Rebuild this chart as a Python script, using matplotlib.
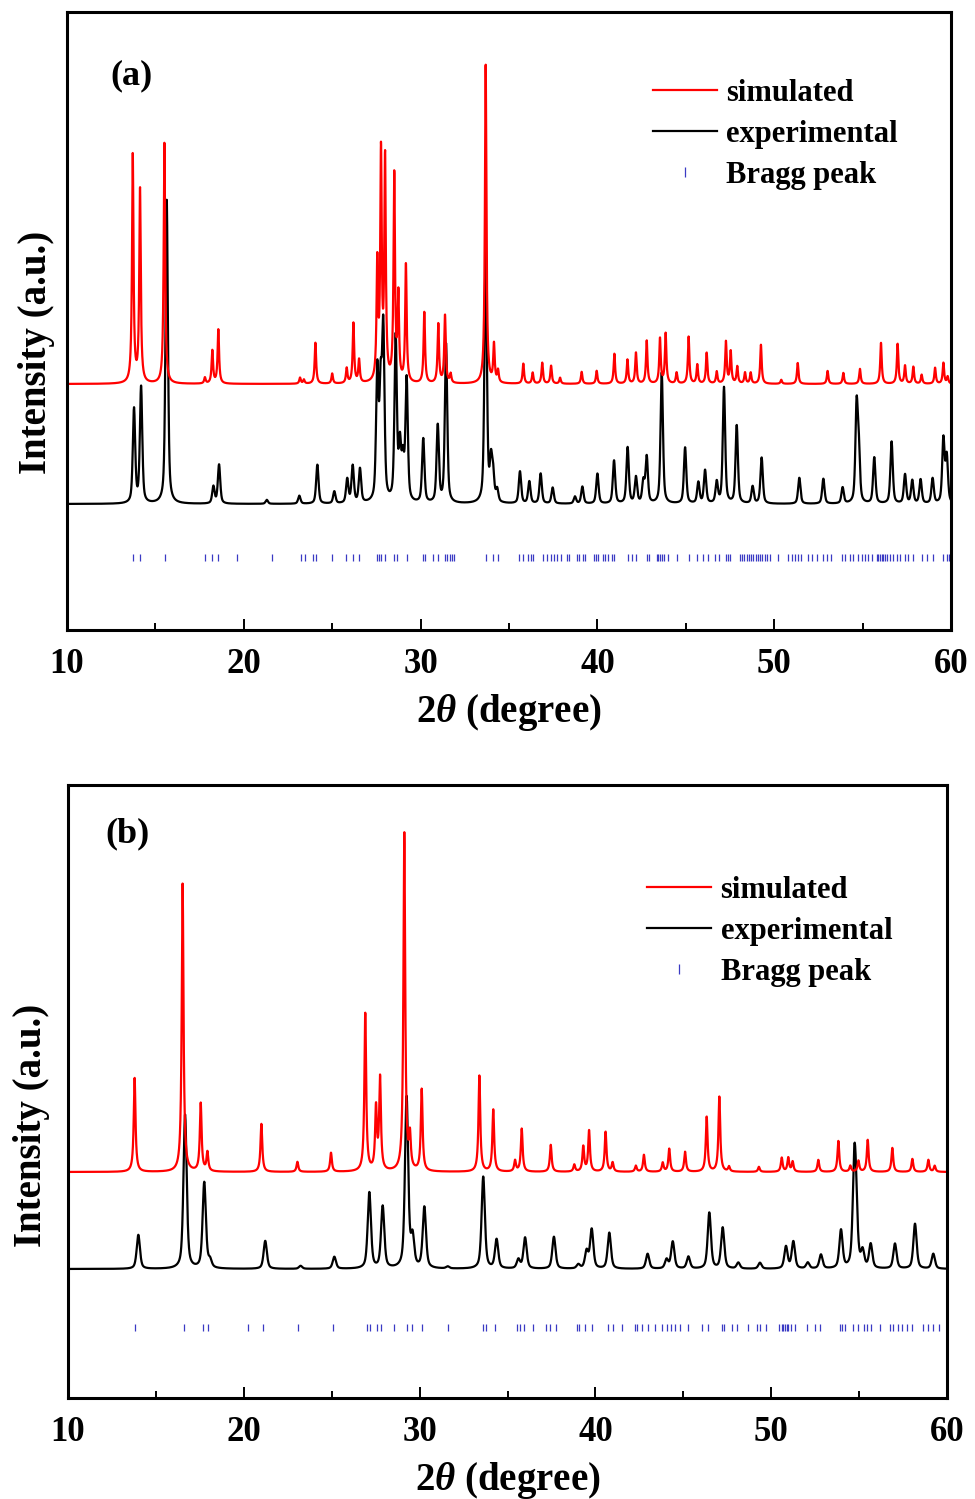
import numpy as np
import matplotlib
matplotlib.use("Agg")
from matplotlib import pyplot as plt
from matplotlib.lines import Line2D

# ---- panel (a): peak positions (2theta) and peak tops (pixel height above axis bottom)
sim_a_pos = [13.72, 14.13, 15.51, 17.8, 18.22, 18.56, 23.18, 23.4, 24.05, 25.0, 25.82, 26.2,
             26.52, 27.55, 27.76, 27.99, 28.51, 28.74, 29.17, 30.21, 31.0, 31.38, 31.7, 33.68,
             34.15, 34.38, 35.81, 36.34, 36.88, 37.38, 37.89, 39.11, 39.96, 40.96, 41.7, 42.18,
             42.79, 43.54, 43.86, 44.48, 45.16, 45.65, 46.18, 46.75, 47.27, 47.54, 47.91, 48.35,
             48.67, 49.25, 50.4, 51.33, 53.02, 53.91, 54.85, 56.04, 56.98, 57.4, 57.87, 58.34,
             59.1, 59.57, 59.81]
sim_a_top = [475, 440, 487, 252, 279, 300, 252, 250, 287, 256, 261, 306,
             269, 362, 471, 466, 452, 330, 364, 317, 305, 314, 255, 566,
             284, 258, 266, 257, 267, 264, 252, 258, 259, 276, 270, 277,
             289, 291, 296, 257, 293, 265, 277, 258, 288, 278, 263, 257,
             257, 285, 250, 267, 259, 257, 261, 287, 286, 264, 263, 255,
             262, 267, 253]
sim_a_base = 246

exp_a_pos = [13.79, 14.19, 15.64, 18.28, 18.6, 21.3, 23.14, 24.16, 25.12, 25.85, 26.16, 26.57,
             27.55, 27.74, 27.89, 28.59, 28.83, 29.0, 29.21, 30.15, 30.97, 31.44, 33.68, 33.98,
             34.1, 34.33, 35.62, 36.15, 36.79, 37.47, 38.73, 39.15, 40.0, 40.94, 41.71, 42.18,
             42.6, 42.79, 43.64, 44.96, 45.71, 46.09, 46.75, 47.16, 47.88, 48.78, 49.29, 51.42,
             52.78, 53.87, 54.66, 54.78, 55.66, 56.64, 57.4, 57.81, 58.28, 58.96, 59.57, 59.76]
exp_a_top = [220, 242, 430, 143, 165, 130, 134, 165, 138, 150, 163, 160,
             255, 230, 292, 290, 180, 165, 248, 190, 203, 285, 383, 164,
             152, 138, 158, 148, 156, 142, 133, 143, 156, 169, 182, 152,
             147, 172, 257, 182, 147, 159, 147, 242, 204, 143, 172, 152,
             151, 142, 220, 176, 172, 188, 155, 149, 150, 151, 190, 172]
exp_a_base = 126

bragg_a = [13.71, 14.13, 15.54, 17.81, 18.18, 18.56, 19.63, 21.61, 23.22, 23.46, 23.93, 24.08,
           25.01, 25.78, 26.16, 26.52, 27.52, 27.65, 27.76, 27.99, 28.51, 28.68, 29.21, 30.15,
           30.25, 30.72, 30.97, 31.38, 31.51, 31.66, 31.8, 31.91, 33.7, 34.11, 34.36, 35.57,
           35.77, 36.09, 36.23, 36.34, 36.94, 37.13, 37.36, 37.55, 37.73, 37.94, 38.3, 38.41,
           38.83, 38.98, 39.2, 39.3, 39.81, 39.92, 40.05, 40.3, 40.43, 40.62, 40.81, 40.96,
           41.75, 41.94, 42.18, 42.79, 42.92, 43.35, 43.45, 43.54, 43.64, 43.79, 44.01, 44.48,
           45.2, 45.62, 45.99, 46.27, 46.65, 46.88, 47.27, 47.4, 47.5, 48.07, 48.2, 48.31,
           48.44, 48.57, 48.69, 48.82, 48.95, 49.07, 49.2, 49.33, 49.48, 49.61, 49.76, 50.2,
           50.8, 50.99, 51.18, 51.36, 51.5, 51.93, 52.12, 52.4, 52.78, 52.97, 53.2, 53.82,
           54.0, 54.29, 54.47, 54.76, 54.95, 55.14, 55.32, 55.51, 55.8, 55.89, 55.98, 56.08,
           56.17, 56.27, 56.36, 56.55, 56.74, 56.93, 57.12, 57.4, 57.59, 57.87, 58.34, 58.63,
           59.0, 59.57, 59.76, 59.9]
bragg_a_level = 72

# ---- panel (b)
sim_b_pos = [13.79, 16.52, 17.55, 17.93, 21.0, 23.05, 24.96, 26.91, 27.52, 27.75, 29.13, 29.45,
             30.12, 33.4, 34.19, 35.43, 35.81, 37.46, 38.8, 39.31, 39.64, 40.58, 40.98, 42.3,
             42.76, 43.83, 44.2, 45.1, 46.33, 47.05, 47.6, 49.3, 50.6, 50.97, 51.22, 52.68,
             53.82, 54.5, 54.96, 55.49, 56.89, 58.03, 58.94, 59.3]
sim_b_top = [320, 515, 294, 245, 274, 236, 245, 384, 288, 318, 565, 258,
             308, 322, 288, 237, 269, 253, 233, 251, 267, 266, 235, 232,
             243, 235, 249, 246, 281, 301, 231, 231, 240, 240, 236, 238,
             257, 232, 237, 258, 250, 239, 238, 232]
sim_b_base = 226

exp_b_pos = [14.0, 16.66, 17.75, 18.08, 21.22, 23.23, 25.15, 27.14, 27.9, 29.26, 29.6, 30.27,
             31.6, 33.62, 34.38, 35.62, 36.0, 37.64, 39.03, 39.5, 39.79, 40.79, 42.97, 44.05,
             44.4, 45.29, 46.48, 47.24, 48.13, 49.36, 50.84, 51.26, 52.08, 52.83, 53.97, 54.73,
             54.83, 55.2, 55.66, 57.04, 58.18, 59.22]
exp_b_top = [163, 283, 215, 136, 157, 132, 141, 205, 191, 300, 158, 190,
             131, 221, 158, 138, 160, 161, 133, 146, 168, 165, 144, 138,
             156, 141, 185, 170, 135, 135, 151, 156, 135, 143, 167, 228,
             172, 145, 153, 154, 174, 144]
exp_b_base = 129

bragg_b = [13.79, 16.6, 17.66, 17.98, 20.22, 21.11, 23.1, 25.06, 27.03, 27.18, 27.6, 27.79,
           28.56, 29.26, 29.55, 30.16, 31.63, 33.59, 33.78, 34.29, 35.56, 35.71, 35.96, 36.43,
           37.19, 37.42, 37.76, 38.93, 39.09, 39.41, 39.79, 40.74, 41.02, 41.49, 42.25, 42.39,
           42.63, 43.01, 43.39, 43.77, 44.05, 44.28, 44.53, 44.81, 45.29, 46.04, 46.42, 47.22,
           47.32, 47.75, 48.04, 48.7, 49.17, 49.36, 49.7, 50.44, 50.6, 50.69, 50.79, 50.88,
           50.98, 51.11, 51.35, 52.06, 52.49, 52.78, 53.91, 54.05, 54.2, 54.67, 54.96, 55.28,
           55.47, 55.66, 56.19, 56.76, 56.95, 57.23, 57.42, 57.71, 57.99, 58.65, 58.94, 59.22,
           59.56]
bragg_b_level = 71

plt.rcParams['font.family'] = 'Liberation Serif'
plt.rcParams['font.weight'] = 'bold'
plt.rcParams['mathtext.fontset'] = 'custom'
plt.rcParams['mathtext.rm'] = 'Liberation Serif:bold'
plt.rcParams['mathtext.it'] = 'Liberation Serif:italic:bold'

BLUE = '#3a3ac4'


def pattern(x, pos, top, base, fwhm, eta):
    # pseudo-Voigt peaks on a flat background
    y = np.full_like(x, float(base))
    for c, t in zip(pos, top):
        d = (x - c) / (fwhm / 2)
        prof = eta / (1 + d ** 2) + (1 - eta) * np.exp(-np.log(2) * d ** 2)
        y += (t - base) * prof
    return y


def panel(ax, tag, sim, exp, bragg, level, fw, ytop, leg_xy, tag_xy, ylab_xy, xlab_y, lsp):
    x = np.linspace(10, 60, 6001)
    ax.plot(x, pattern(x, *exp, fw[1], 0.55), color='black', lw=1.6)
    ax.plot(x, pattern(x, *sim, fw[0], 1.0), color='red', lw=1.6)
    ax.vlines(bragg, level - 3.5, level + 3.5, color=BLUE, lw=0.9)
    ax.set_xlim(10, 60)
    ax.set_ylim(0, ytop)
    ax.set_xticks([10, 20, 30, 40, 50, 60])
    ax.set_xticks([15, 25, 35, 45, 55], minor=True)
    ax.set_yticks([])
    ax.tick_params(axis='x', which='major', direction='in', length=8, width=1.4,
                   labelsize=25, pad=13)
    ax.tick_params(axis='x', which='minor', direction='in', length=5, width=1.4)
    for s in ax.spines.values():
        s.set_linewidth(2.2)
    for lab in ax.get_xticklabels():
        lab.set_fontweight('bold')
    ax.set_xlabel(r'2$\mathit{\theta}$ (degree)', fontsize=28, fontweight='bold')
    ax.xaxis.set_label_coords(0.5, xlab_y)
    ax.set_ylabel('Intensity (a.u.)', fontsize=28, fontweight='bold')
    ax.yaxis.set_label_coords(*ylab_xy)
    ax.text(*tag_xy, tag, transform=ax.transAxes, fontsize=26, fontweight='bold',
            ha='center', va='center')
    handles = [Line2D([], [], color='red', lw=1.6),
               Line2D([], [], color='black', lw=1.6),
               Line2D([], [], color=BLUE, lw=0, marker='|', markersize=7, mew=0.9)]
    ax.legend(handles, ['simulated', 'experimental', 'Bragg peak'], loc='upper left',
              bbox_to_anchor=leg_xy, frameon=False, borderaxespad=0, borderpad=0,
              handlelength=2.1, handletextpad=0.3, labelspacing=lsp,
              prop={'family': 'Liberation Serif', 'weight': 'bold', 'size': 22})


fig = plt.figure(figsize=(9.75, 14.99), dpi=100)
ax_a = fig.add_axes([67 / 975, 1 - 630 / 1499, 884 / 975, 618 / 1499])
ax_b = fig.add_axes([68 / 975, 1 - 1398 / 1499, 879 / 975, 613 / 1499])

panel(ax_a, '(a)', (sim_a_pos, sim_a_top, sim_a_base), (exp_a_pos, exp_a_top, exp_a_base),
      bragg_a, bragg_a_level, (0.1, 0.16), 618, (0.663, 0.892), (0.073, 0.896),
      (-0.014, 0.45), -0.101, 0.40)
panel(ax_b, '(b)', (sim_b_pos, sim_b_top, sim_b_base), (exp_b_pos, exp_b_top, exp_b_base),
      bragg_b, bragg_b_level, (0.12, 0.22), 613, (0.659, 0.852), (0.068, 0.92),
      (-0.021, 0.445), -0.101, 0.40)

fig.savefig('out.png', dpi=100, facecolor='white')
